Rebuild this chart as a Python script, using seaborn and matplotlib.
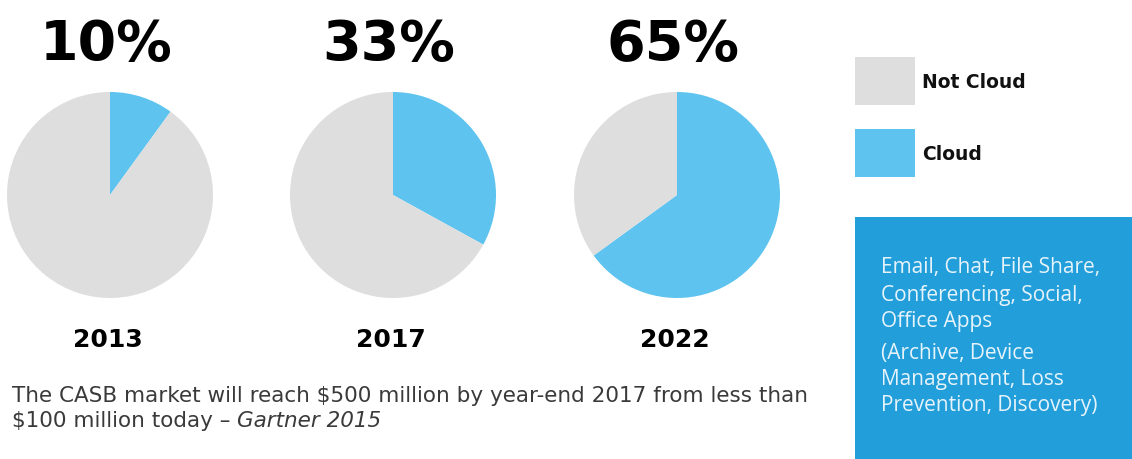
import matplotlib
matplotlib.use("Agg")
import matplotlib.pyplot as plt
import seaborn as sns
from matplotlib.patches import Rectangle

sns.set_theme(style="white")
plt.rcParams['font.family'] = ['DejaVu Sans']

years = ["2013", "2017", "2022"]
cloud_pct = [10, 33, 65]
categories = ["Cloud", "Not Cloud"]
legend_labels = ["Not Cloud", "Cloud"]
box_lines_1 = ["Email, Chat, File Share,", "Conferencing, Social,", "Office Apps"]
box_lines_2 = ["(Archive, Device", "Management, Loss", "Prevention, Discovery)"]
caption_1 = "The CASB market will reach $500 million by year-end 2017 from less than"
caption_2 = "$100 million today \u2013 "
caption_src = "Gartner 2015"

GRAY = "#DEDEDE"
BLUE = "#5EC4EF"
BOX = "#229FDA"

W, H = 1132, 459
fig = plt.figure(figsize=(W / 100, H / 100), dpi=100)
fig.patch.set_facecolor("white")

def fx(px):
    return px / W

def fy(py):
    return 1 - py / H

centers = [(110, 195), (393, 195), (677, 195)]
R = 103
for (cx, cy), yr, pct in zip(centers, years, cloud_pct):
    ax = fig.add_axes([fx(cx - R), fy(cy + R), 2 * R / W, 2 * R / H])
    ax.pie([pct, 100 - pct], colors=[BLUE, GRAY], startangle=90,
           counterclock=False, radius=1.0,
           wedgeprops=dict(linewidth=0))
    ax.set_xlim(-1.0, 1.0)
    ax.set_ylim(-1.0, 1.0)
    ax.set_axis_off()
    fig.text(fx(cx - 4), fy(45), f"{pct}%", ha="center", va="center",
             fontsize=40, fontweight="bold", color="black")
    fig.text(fx(cx - 2), fy(340), yr, ha="center", va="center",
             fontsize=18, fontweight="bold", color="black")

# legend
for label, col, ytop in zip(legend_labels, [GRAY, BLUE], [57, 129]):
    fig.patches.append(Rectangle((fx(855), fy(ytop + 48)), 60 / W, 48 / H,
                                 transform=fig.transFigure, facecolor=col,
                                 edgecolor="none"))
    fig.text(fx(922), fy(ytop + 25), label, ha="left", va="center",
             fontsize=13.5, fontweight="bold", color="#111111")

# blue info box
fig.patches.append(Rectangle((fx(855), 0), (W - 855) / W, (H - 217) / H,
                             transform=fig.transFigure, facecolor=BOX,
                             edgecolor="none"))
ys1 = [268, 295, 321]
ys2 = [353, 380, 406]
for t, y in zip(box_lines_1 + box_lines_2, ys1 + ys2):
    fig.text(fx(881), fy(y), t, ha="left", va="center", fontsize=15,
             color="#E6F3FB", family="Open Sans")

# caption
fs = 15.5
fig.text(fx(12), fy(396), caption_1, ha="left", va="center", fontsize=fs,
         color="#3A3A3A", family="DejaVu Sans")
t2 = fig.text(fx(12), fy(421), caption_2, ha="left", va="center", fontsize=fs,
              color="#3A3A3A", family="DejaVu Sans")
fig.canvas.draw()
bb = t2.get_window_extent()
fig.text(bb.x1 / W, fy(421), caption_src, ha="left", va="center", fontsize=fs,
         color="#3A3A3A", family="DejaVu Sans", style="italic")

fig.savefig("out.png", dpi=100, facecolor="white")
